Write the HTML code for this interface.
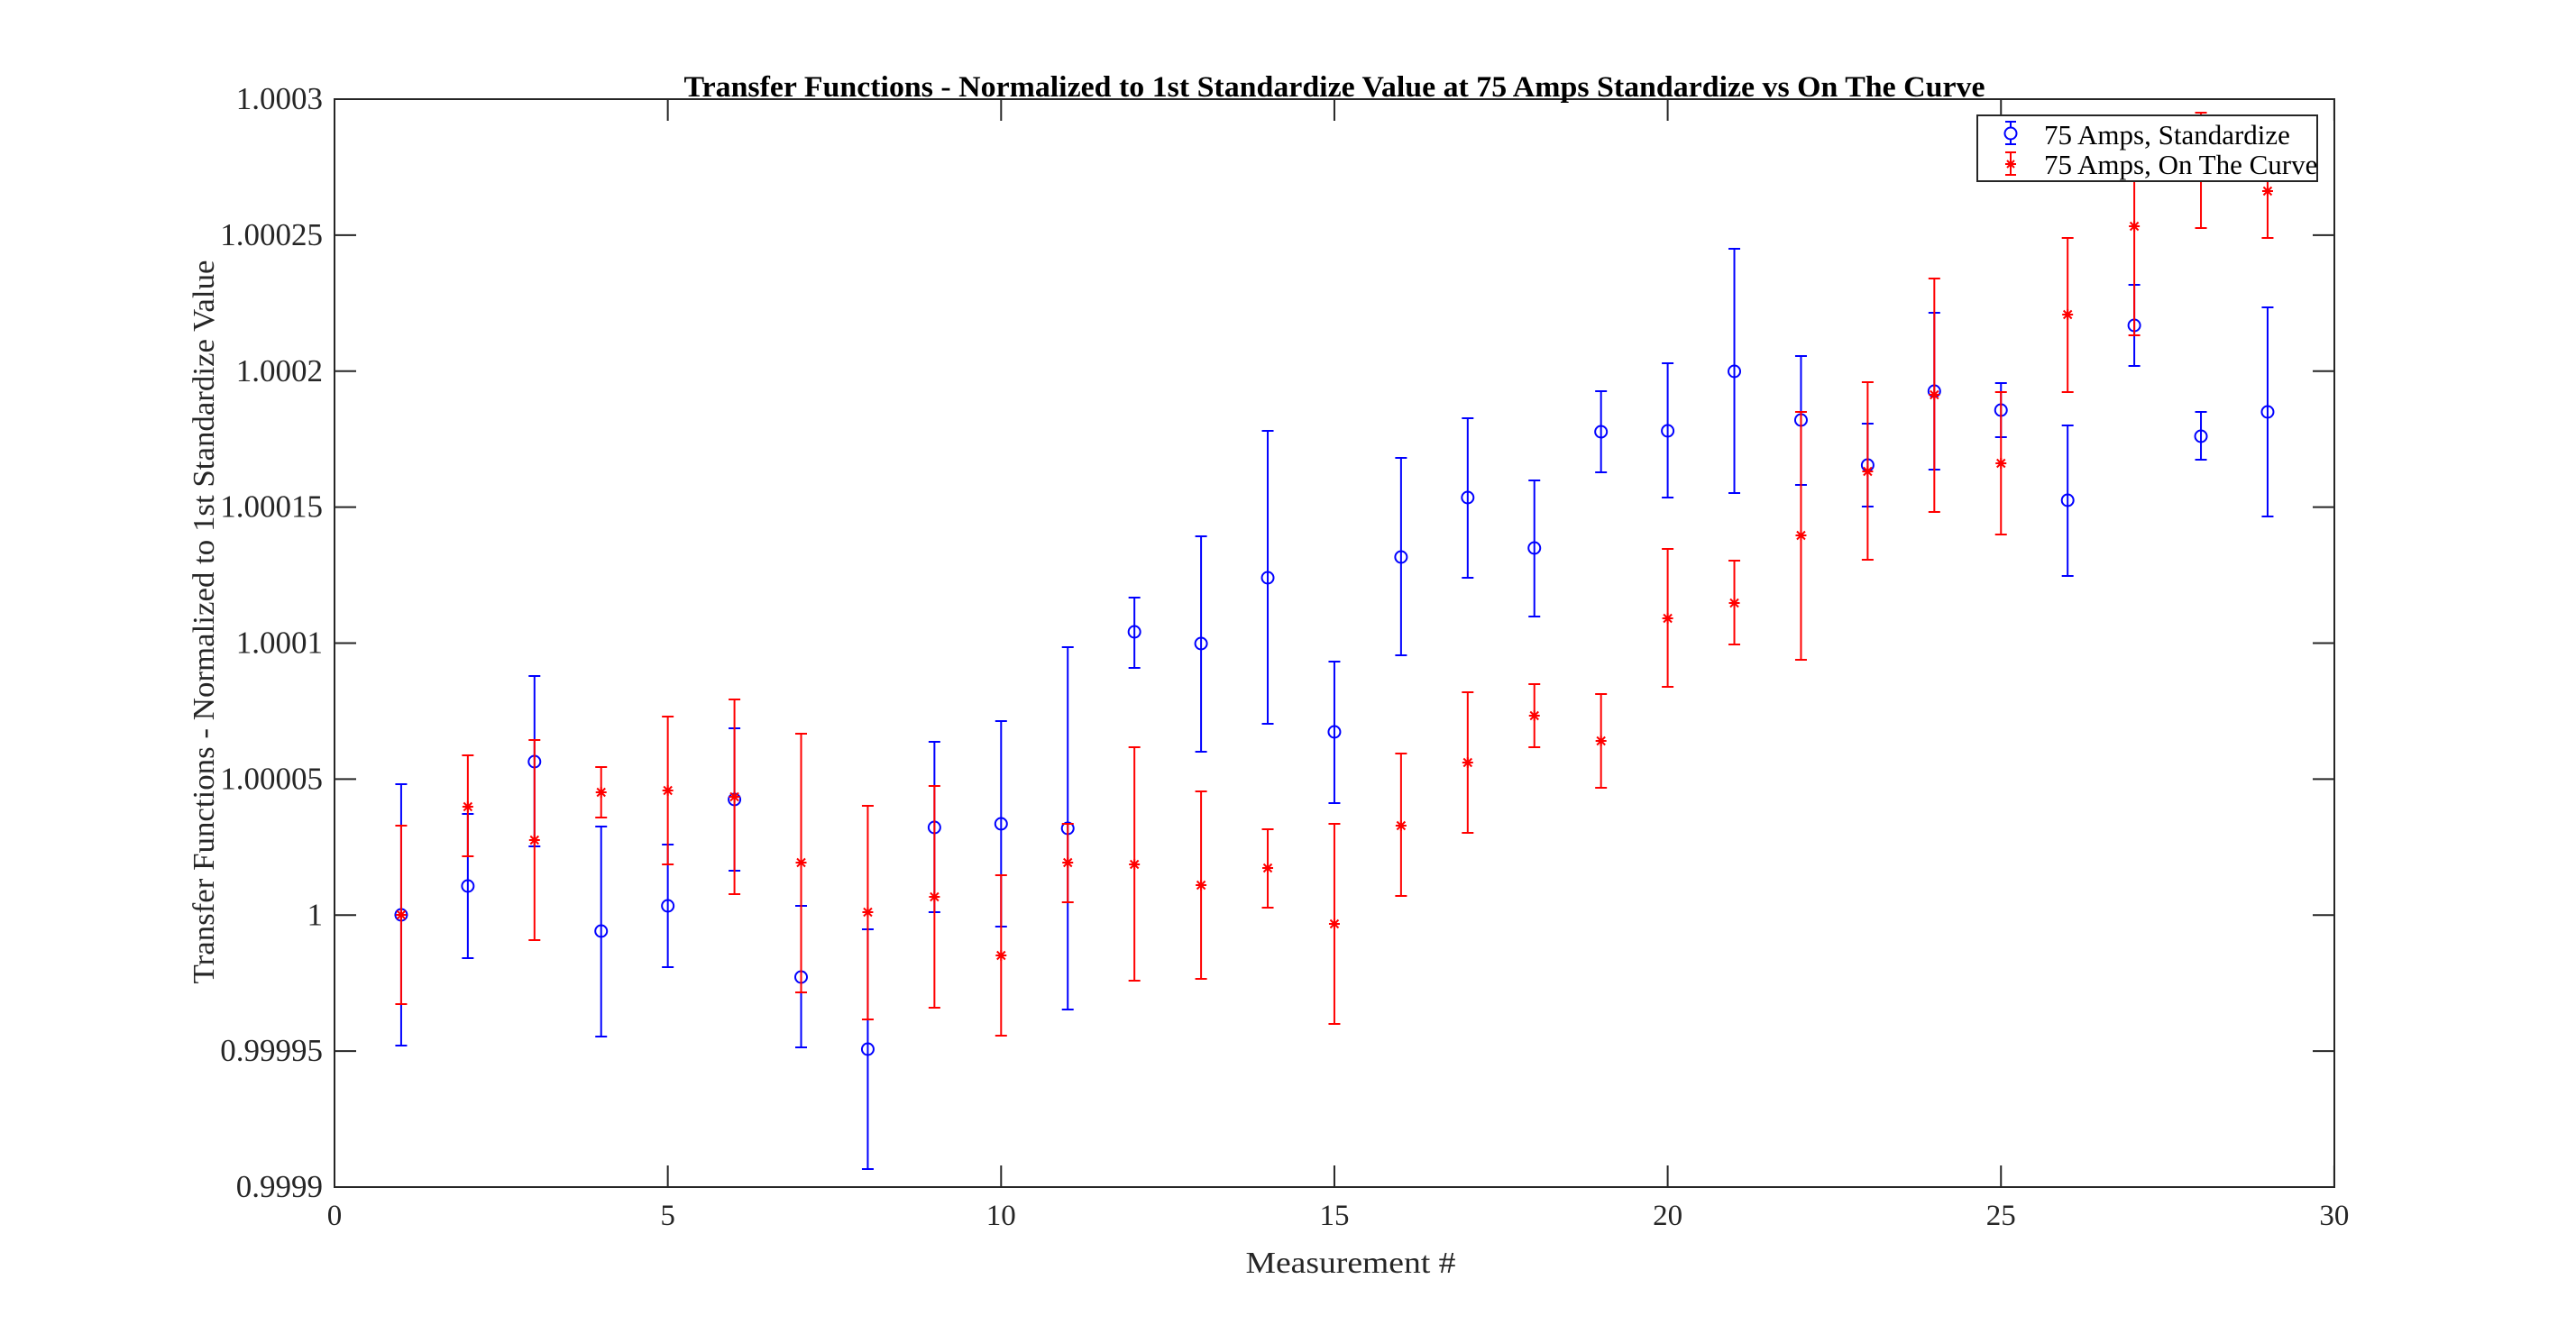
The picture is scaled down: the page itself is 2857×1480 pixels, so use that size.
<!DOCTYPE html>
<html><head><meta charset="utf-8"><style>html,body{margin:0;padding:0;background:#fff}svg{display:block}</style></head>
<body>
<svg id="s" width="2857" height="1480" xmlns="http://www.w3.org/2000/svg" font-family="Liberation Serif, serif">
<rect width="2857" height="1480" fill="#fff"/>
<g id="data"></g>
<g stroke="#262626" stroke-width="2" fill="none">
<rect x="371" y="110" width="2218" height="1207"/>
</g>
<g id="ticks" stroke="#262626" stroke-width="2"></g>
<g id="labels" font-size="33" fill="#262626"></g>
<text x="1480" y="107" font-size="33" font-weight="bold" text-anchor="middle" textLength="1443" lengthAdjust="spacingAndGlyphs">Transfer Functions - Normalized to 1st Standardize Value at 75 Amps Standardize vs On The Curve</text>
<text x="1498" y="1412" font-size="34" text-anchor="middle" fill="#262626" textLength="233" lengthAdjust="spacingAndGlyphs">Measurement #</text>
<text transform="translate(237,690) rotate(-90)" font-size="34" text-anchor="middle" fill="#262626" textLength="803" lengthAdjust="spacingAndGlyphs">Transfer Functions - Normalized to 1st Standardize Value</text>
<rect x="2193" y="128" width="377" height="73" fill="#fff" stroke="#262626" stroke-width="2"/>
<g stroke="#0000ff" stroke-width="2" fill="none">
<line x1="2230" y1="135" x2="2230" y2="160"/><line x1="2224" y1="135" x2="2236" y2="135"/><line x1="2224" y1="160" x2="2236" y2="160"/><circle cx="2230" cy="148" r="6.5" fill="#fff"/>
</g>
<g stroke="#ff0000" stroke-width="2" fill="none">
<line x1="2230" y1="169" x2="2230" y2="194"/><line x1="2224" y1="169" x2="2236" y2="169"/><line x1="2224" y1="194" x2="2236" y2="194"/>
<path d="M2224 182h12M2230 176v12M2226 178l8 8M2234 178l-8 8"/>
</g>
<text x="2267" y="160" font-size="31">75 Amps, Standardize</text>
<text x="2267" y="193" font-size="31">75 Amps, On The Curve</text>
</svg>
<script>
var X=function(n){return 371+n*73.93};
var blue=[[870,1015,1160],[903,983,1063],[750,845,939],[917,1033,1150],[937,1005,1073],[808,887,966],[1005,1084,1162],[1031,1164,1297],[823,918,1012],[800,914,1028],[718,919,1120],[663,701,741],[595,714,834],[478,641,803],[734,812,891],[508,618,727],[464,552,641],[533,608,684],[434,479,524],[403,478,552],[276,412,547],[395,466,538],[470,516,562],[347,434,521],[425,455,485],[472,555,639],[316,361,406],[457,484,510],[341,457,573]];
var red=[[916,1015,1114],[838,895,950],[821,932,1043],[851,879,907],[795,877,959],[776,884,992],[814,957,1101],[894,1012,1131],[872,995,1118],[971,1060,1149],[914,957,1001],[829,959,1088],[878,982,1086],[920,963,1007],[914,1025,1136],[836,916,994],[768,846,924],[759,794,829],[770,822,874],[609,686,762],[622,669,715],[457,594,732],[424,523,621],[309,438,568],[435,514,593],[264,349,435],[130,251,372],[125,189,253],[160,212,264]];
var h='';
function eb(arr,col,mk){arr.forEach(function(d,i){var x=X(i+1);
h+='<g stroke="'+col+'" stroke-width="2" fill="none"><line x1="'+x+'" y1="'+d[0]+'" x2="'+x+'" y2="'+d[2]+'"/><line x1="'+(x-6.5)+'" y1="'+d[0]+'" x2="'+(x+6.5)+'" y2="'+d[0]+'"/><line x1="'+(x-6.5)+'" y1="'+d[2]+'" x2="'+(x+6.5)+'" y2="'+d[2]+'"/>';
if(mk=='o')h+='<circle cx="'+x+'" cy="'+d[1]+'" r="6.5"/>';
else{var y=d[1];h+='<path d="M'+(x-6)+' '+y+'h12M'+x+' '+(y-6)+'v12M'+(x-4.5)+' '+(y-4.5)+'l9 9M'+(x+4.5)+' '+(y-4.5)+'l-9 9"/>';}
h+='</g>';});}
eb(blue,'#0000ff','o');eb(red,'#ff0000','*');
document.getElementById('data').innerHTML=h;
var t='',l='';
for(var n=0;n<=30;n+=5){var x=X(n);t+='<line x1="'+x+'" y1="1317" x2="'+x+'" y2="1293"/><line x1="'+x+'" y1="110" x2="'+x+'" y2="134"/>';l+='<text x="'+x+'" y="1359" text-anchor="middle">'+n+'</text>';}
var labs=['0.9999','0.99995','1','1.00005','1.0001','1.00015','1.0002','1.00025','1.0003'];
for(var k=0;k<9;k++){var y=1317-k*150.875;t+='<line x1="371" y1="'+y+'" x2="395" y2="'+y+'"/><line x1="2589" y1="'+y+'" x2="2565" y2="'+y+'"/>';l+='<text x="358" y="'+(y+11)+'" text-anchor="end" font-size="35">'+labs[k]+'</text>';}
document.getElementById('ticks').innerHTML=t;document.getElementById('labels').innerHTML=l;
</script>
</body></html>
